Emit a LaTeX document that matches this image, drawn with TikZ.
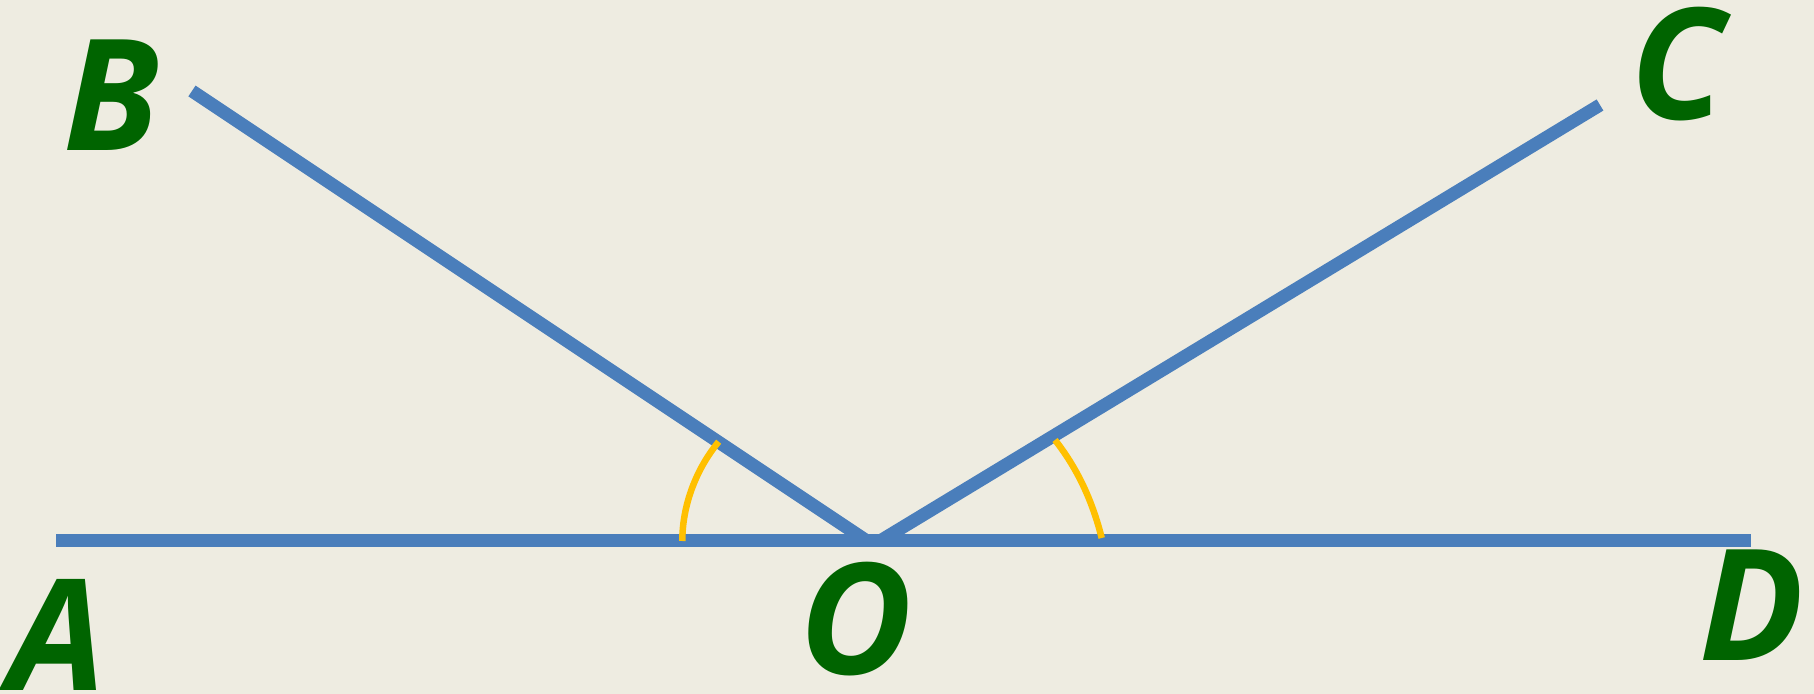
\documentclass[tikz,border=0pt]{standalone}
\usepackage{fontspec}
\setmainfont{Open Sans}
\definecolor{bg}{HTML}{EEECE1}
\definecolor{lineblue}{HTML}{4A7EBB}
\definecolor{arcyellow}{HTML}{FFC000}
\definecolor{labelgreen}{HTML}{006400}
\begin{document}
\begin{tikzpicture}[x=0.5pt,y=-0.5pt,
  ray/.style={draw=lineblue,line width=6.5pt},
  anglearc/.style={draw=arcyellow,line width=3.25pt},
  lbl/.style={text=labelgreen,inner sep=0pt,font=\fontsize{77.5}{77.5}\selectfont\bfseries\itshape}]
\fill[bg] (0,0) rectangle (1814,694);
\useasboundingbox (0,0) rectangle (1814,694);
\coordinate (Aend) at (56,541);
\coordinate (Dend) at (1751,541);
\coordinate (Bend) at (192,91);
\coordinate (Cend) at (1600,105);
\coordinate (OB) at (867,541);
\coordinate (OC) at (880,541);
\draw[ray] (Bend) -- (OB);
\draw[ray] (OC) -- (Cend);
\draw[ray] (Aend) -- (Dend);
\coordinate (a1) at (718.7,441.7);
\coordinate (a2) at (682.3,541);
\coordinate (b1) at (1055,440);
\coordinate (b2) at (1101.7,538);
\draw[anglearc] (a1) .. controls (696.3,468.7) and (682.3,505) .. (a2);
\draw[anglearc] (b1) .. controls (1078.6,470) and (1092.9,503) .. (b2);
\node[lbl] (A) at (57.5,634.6) {A};
\node[lbl] (B) at (111.5,94.7) {B};
\node[lbl] (C) at (1678,64.5) {C};
\node[lbl] (O) at (856,619.5) {O};
\node[lbl] (D) at (1751.5,605) {D};
\end{tikzpicture}
\end{document}
